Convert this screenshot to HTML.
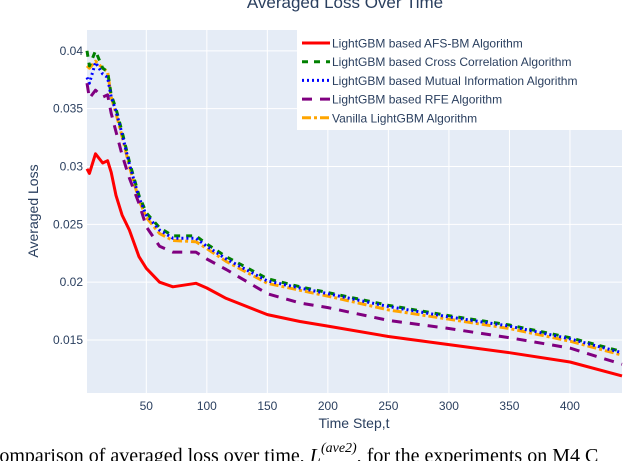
<!DOCTYPE html>
<html><head><meta charset="utf-8"><style>
body{margin:0;background:#fff;width:640px;height:461px;overflow:hidden;font-family:"Liberation Sans",sans-serif}
svg{display:block}
</style></head><body>
<svg id="chart" width="640" height="461">
<text x="345" y="8" text-anchor="middle" font-size="17" fill="#2a3f5f">Averaged Loss Over Time</text>
<rect x="87" y="30" width="535" height="363" fill="#e5ecf6"/>
<g id="grid"></g><g id="series"></g><g id="ticks"></g>
<text x="354" y="428" text-anchor="middle" font-size="14" fill="#2a3f5f">Time Step,t</text>
<text transform="translate(38,211) rotate(-90)" text-anchor="middle" font-size="14" fill="#2a3f5f">Averaged Loss</text>
<g id="legend"></g>
<text x="-14" y="462" font-family="Liberation Serif,serif" font-size="20" fill="#000">Comparison of averaged loss over time, <tspan font-style="italic">L</tspan><tspan dy="-10" font-size="14" font-style="italic">(ave2)</tspan><tspan dy="10">, for the experiments on M4 C</tspan></text>
</svg>
<script>
const xVals=[1,3,8,14,18,21,25,30,36,44,50,61,72,91,100,116,150,177,200,250,300,350,400,443];
const redVals=[0.0298,0.0294,0.0311,0.0303,0.0305,0.0295,0.0275,0.0258,0.0245,0.0222,0.0212,0.0200,0.0196,0.0199,0.0195,0.0186,0.0172,0.0166,0.0162,0.0153,0.0146,0.0139,0.0131,0.0119];
const greenVals=[0.0400,0.0387,0.0400,0.0385,0.0382,0.0362,0.0350,0.0330,0.0304,0.0275,0.0260,0.0247,0.0240,0.0240,0.0233,0.0222,0.0203,0.0196,0.0191,0.0180,0.0171,0.0163,0.0152,0.0140];
const blueVals=[0.0377,0.0372,0.0390,0.0380,0.0377,0.0360,0.0348,0.0328,0.0302,0.0273,0.0258,0.0245,0.0238,0.0238,0.0231,0.0220,0.0201,0.0195,0.0190,0.0179,0.0170,0.0162,0.0151,0.0139];
const orangeVals=[0.0387,0.0385,0.0391,0.0385,0.0382,0.0360,0.0346,0.0326,0.0300,0.0271,0.0256,0.0242,0.0236,0.0235,0.0229,0.0218,0.0199,0.0193,0.0188,0.0176,0.0168,0.0160,0.0149,0.0137];
const purpleVals=[0.0372,0.0359,0.0366,0.0360,0.0362,0.0346,0.0330,0.0310,0.0290,0.0268,0.0248,0.0231,0.0226,0.0226,0.0220,0.0211,0.0190,0.0182,0.0178,0.0167,0.0160,0.0152,0.0143,0.0129];
const xTicks=[50,100,150,200,250,300,350,400];
const yTicks=[0.015,0.02,0.025,0.03,0.035,0.04];
const yTickLabels=["0.015","0.02","0.025","0.03","0.035","0.04"];
const seriesNames=["LightGBM based AFS-BM Algorithm","LightGBM based Cross Correlation Algorithm","LightGBM based Mutual Information Algorithm","LightGBM based RFE Algorithm","Vanilla LightGBM Algorithm"];
const NS="http://www.w3.org/2000/svg";
const X0=87,X1=622,Y0=393,Y1=30,XMIN=1,XMAX=443,YMIN=0.01042,YMAX=0.0418;
const sx=v=>X0+(v-XMIN)/(XMAX-XMIN)*(X1-X0);
const sy=v=>Y0-(v-YMIN)/(YMAX-YMIN)*(Y0-Y1);
function mk(t,a,p){const e=document.createElementNS(NS,t);for(const k in a)e.setAttribute(k,a[k]);p.appendChild(e);return e;}
const grid=document.getElementById('grid'),ticks=document.getElementById('ticks');
xTicks.forEach(v=>{const l=mk('line',{x1:sx(v),x2:sx(v),y1:Y1,y2:Y0,stroke:'#fff','stroke-width':1},grid);


const t=mk('text',{x:sx(v),y:410,'text-anchor':'middle','font-size':12,fill:'#2a3f5f'},ticks);t.textContent=v;

});
yTicks.forEach((v,i)=>{const l=mk('line',{x1:X0,x2:X1,y1:sy(v),y2:sy(v),stroke:'#fff','stroke-width':1},grid);


const t=mk('text',{x:83,y:sy(v)+4,'text-anchor':'end','font-size':12,fill:'#2a3f5f'},ticks);t.textContent=yTickLabels[i];

});
const styles=[['#ff0000','',redVals,'afs-bm-line'],['green','6,6',greenVals,'cross-correlation-line'],['blue','2,3',blueVals,'mutual-information-line'],['purple','10,8',purpleVals,'rfe-line'],['orange','9,3,3,3',orangeVals,'vanilla-line']];
const order=[4,1,2,3,0];
const sg=document.getElementById('series');
order.forEach(i=>{const s=styles[i];const d=xVals.map((x,j)=>(j?'L':'M')+sx(x).toFixed(1)+','+sy(s[2][j]).toFixed(1)).join(' ');
const p=mk('path',{d:d,fill:'none',stroke:s[0],'stroke-width':3,'stroke-dasharray':s[1],'stroke-linejoin':'round'},sg);

});
const lg=document.getElementById('legend');
mk('rect',{x:297,y:30,width:340,height:100,fill:'#fff'},lg);
seriesNames.forEach((n,i)=>{const y=43+i*18.7;const s=styles[i];
mk('line',{x1:302,x2:330,y1:y,y2:y,stroke:s[0],'stroke-width':3,'stroke-dasharray':s[1]},lg);
const t=mk('text',{x:332,y:y+4.5,'font-size':12,fill:'#2a3f5f'},lg);t.textContent=n;

});
</script>
</body></html>
